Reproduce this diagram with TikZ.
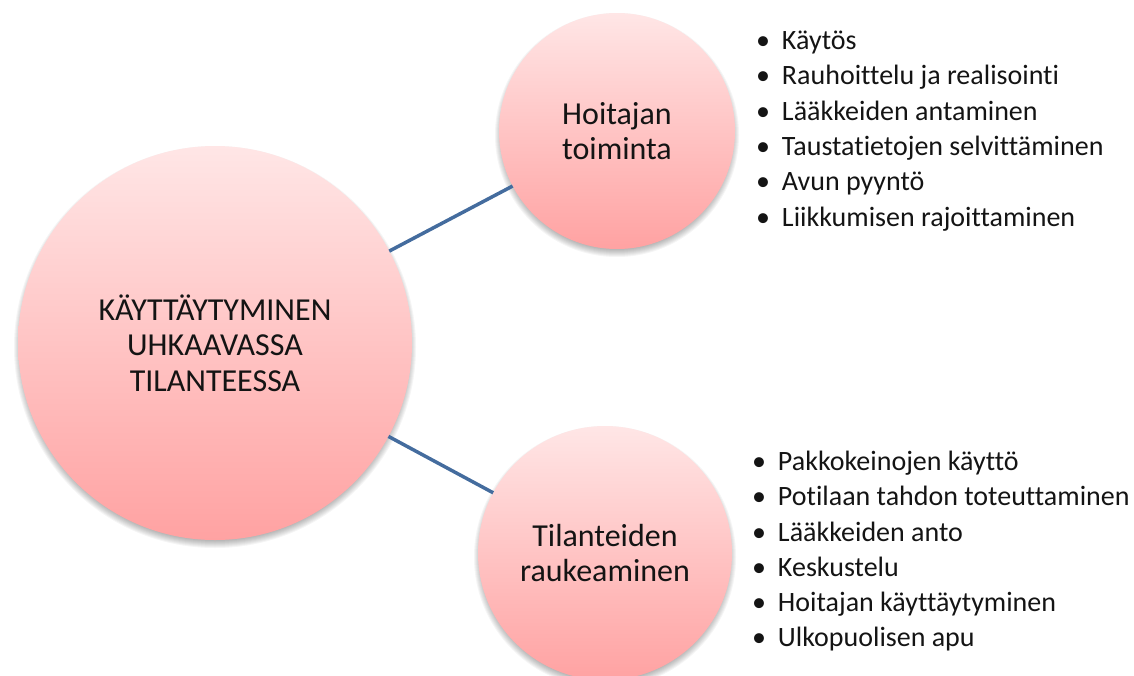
\documentclass[tikz,border=0pt]{standalone}
\usepackage{fontspec}
\setmainfont{Carlito}[RawFeature={-liga;-clig;-calt;-dlig}]
\definecolor{linkblue}{RGB}{68,108,158}
\definecolor{pinktop}{RGB}{255,230,230}
\definecolor{pinkbot}{RGB}{255,162,162}
\definecolor{txt}{RGB}{20,20,20}
\begin{document}
\begin{tikzpicture}[x=1pt,y=-1pt,
  bubble/.style={circle, inner sep=0pt, outer sep=0pt, top color=pinktop, bottom color=pinkbot, align=center, text=txt},
  link/.style={draw=linkblue, line width=3.5pt},
  item/.style={anchor=base west, inner sep=0pt, outer sep=0pt, text=txt, font=\fontsize{28}{34}\selectfont}]
\useasboundingbox (0,0) rectangle (1134,675);
% soft shadows
\foreach \cx/\cy/\r in {215/343/197, 617/131/118, 605/553/127}{
  \foreach \k in {0,...,7}{
    \fill[black, opacity=0.04] (\cx,\cy+4) circle ({\r+4-\k});
  }
}
\node[bubble, minimum size=394pt, font=\fontsize{32}{35.5}\selectfont] (main) at (215,343) {KÄYTTÄYTYMINEN\\UHKAAVASSA\\TILANTEESSA};
\node[bubble, minimum size=236pt, font=\fontsize{32}{35}\selectfont] (hoit) at (617,131) {Hoitajan\\toiminta};
\node[bubble, minimum size=254pt, font=\fontsize{32}{35}\selectfont] (tila) at (605,553) {Tilanteiden\\raukeaminen};
\draw[link] (main) -- (hoit);
\draw[link] (main) -- (tila);
\foreach \t [count=\i] in {Käytös, Rauhoittelu ja realisointi, Lääkkeiden antaminen, Taustatietojen selvittäminen, Avun pyyntö, Liikkumisen rajoittaminen}{
  \node[item] (a\i) at (782, {49.3+35.4*(\i-1)}) {\llap{•\hspace{12pt}}\t};
}
\foreach \t [count=\i] in {Pakkokeinojen käyttö, Potilaan tahdon toteuttaminen, Lääkkeiden anto, Keskustelu, Hoitajan käyttäytyminen, Ulkopuolisen apu}{
  \node[item] (b\i) at (778, {470.7+35.2*(\i-1)}) {\llap{•\hspace{12pt}}\t};
}
\end{tikzpicture}
\end{document}
